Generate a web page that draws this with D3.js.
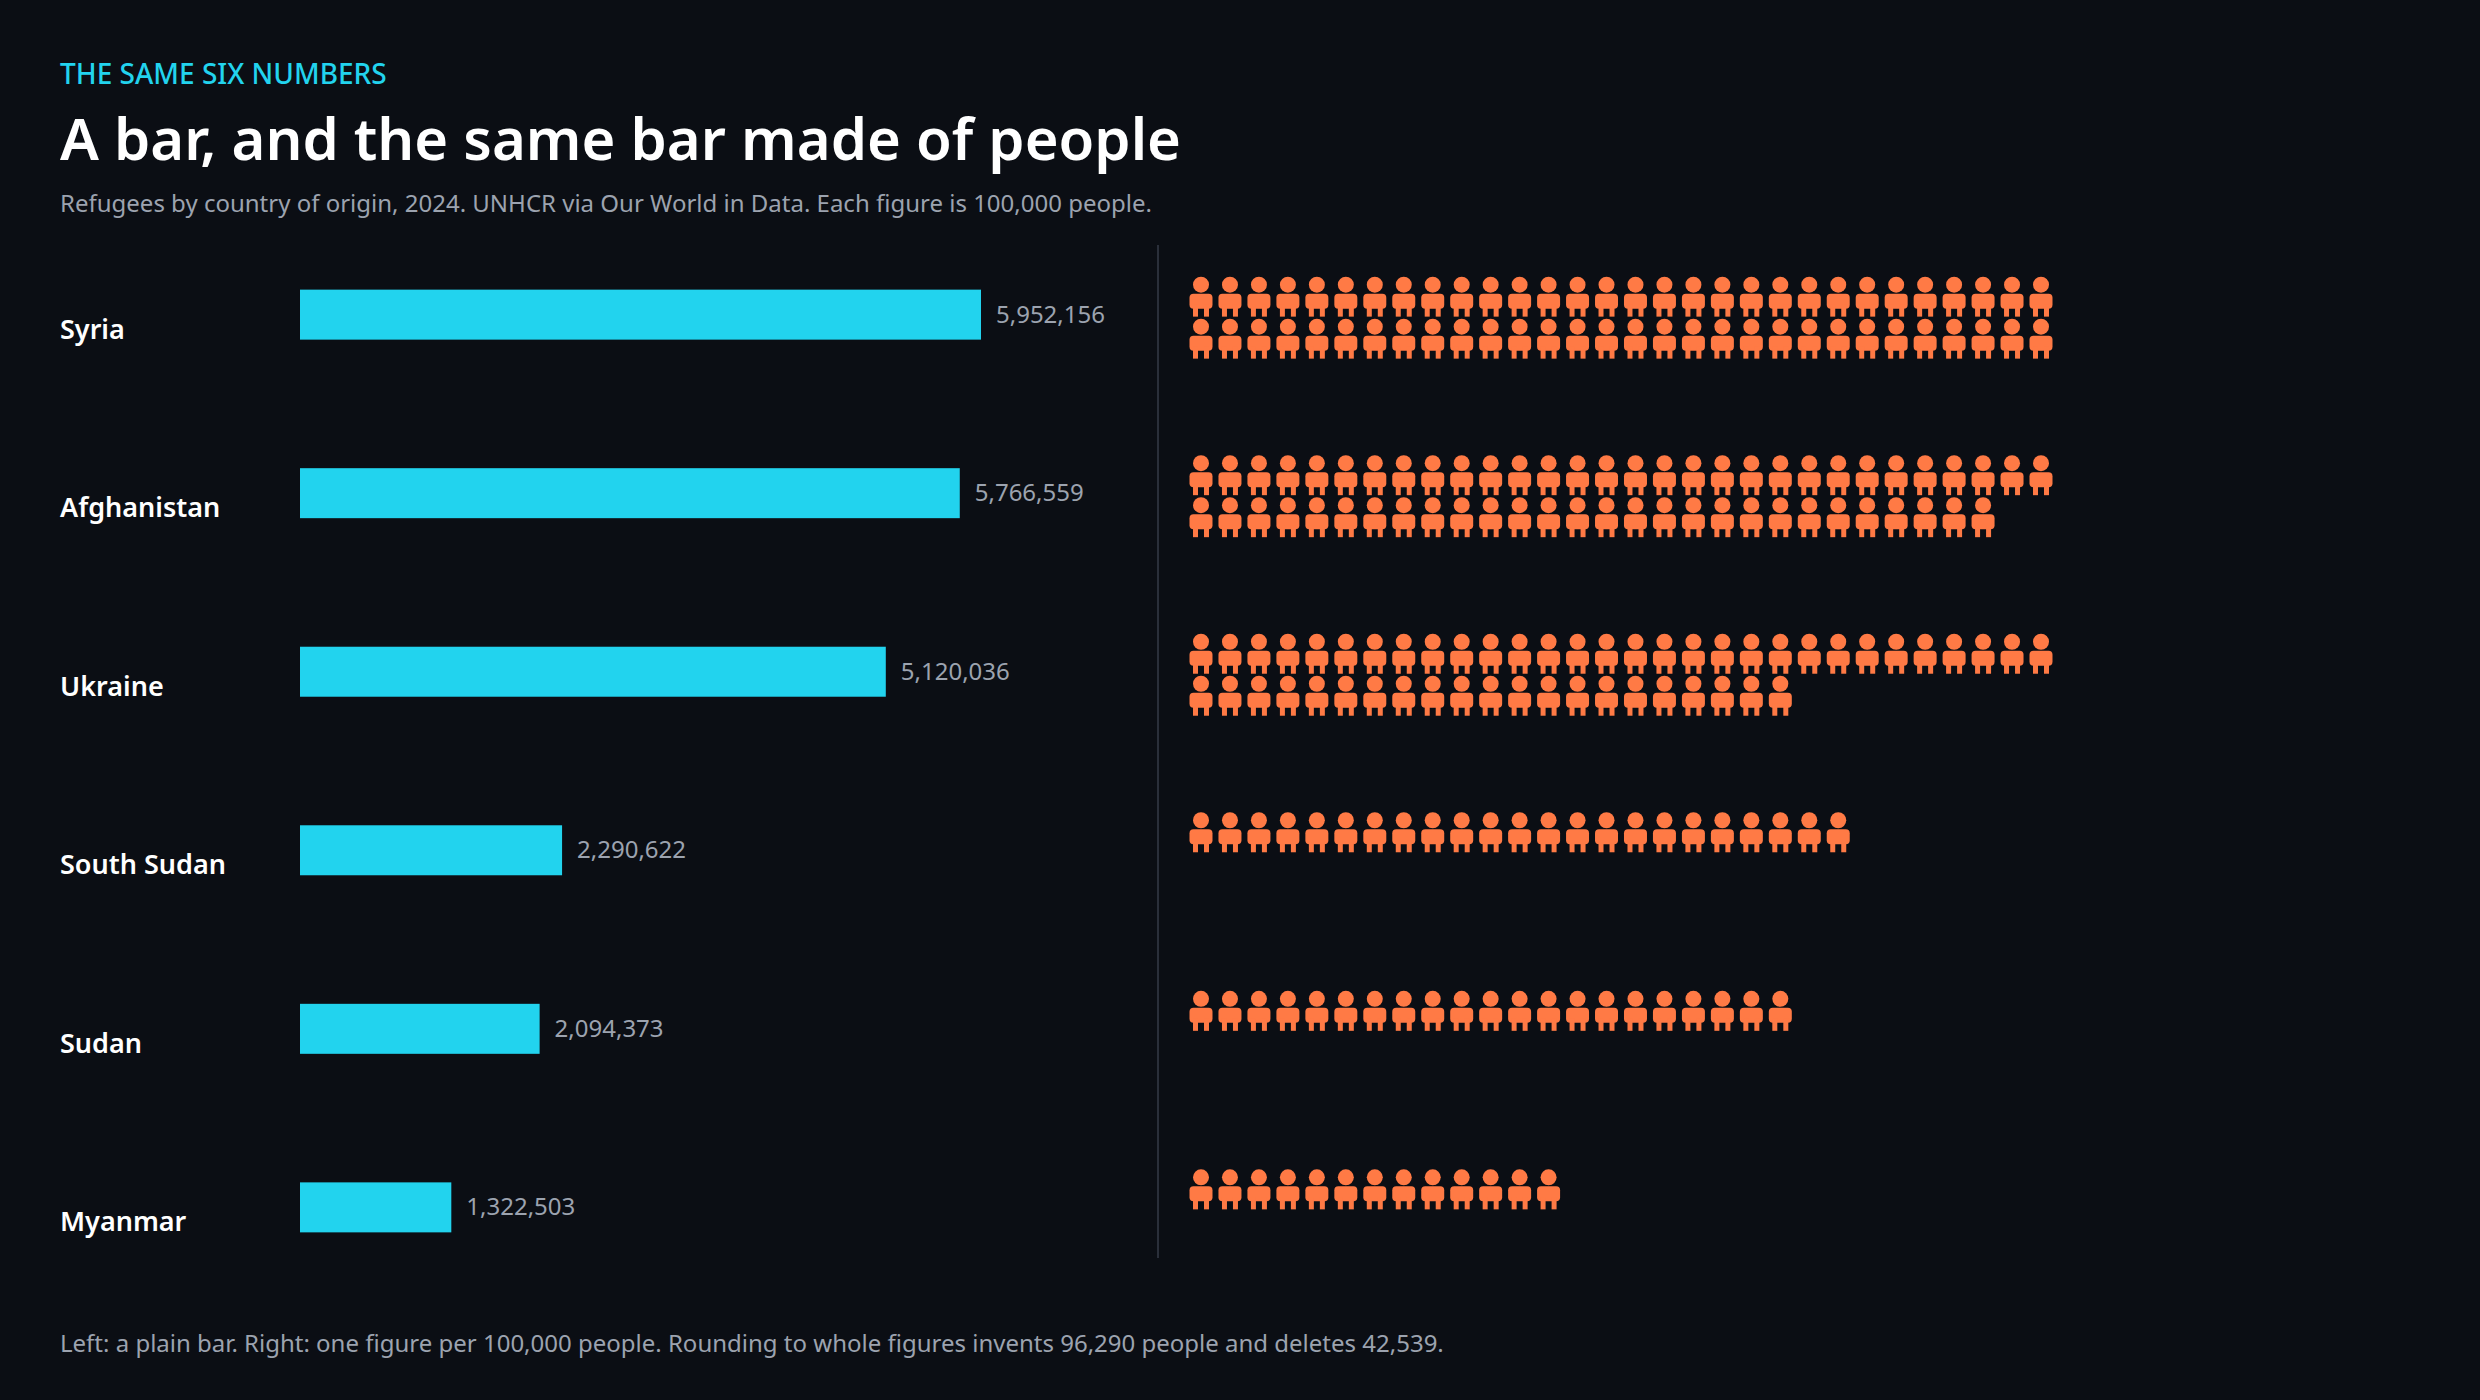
<!DOCTYPE html>
<html>
<head>
<meta charset="utf-8">
<script src="https://cdn.jsdelivr.net/npm/d3@7"></script>
<style>
  html, body { margin: 0; padding: 0; background: #0b0e14; }
  svg { display: block; font-family: "Noto Sans", "Open Sans", sans-serif; }
</style>
</head>
<body>
<svg id="chart" width="2480" height="1400"></svg>
<script>
const countries = ['Syria', 'Afghanistan', 'Ukraine', 'South Sudan', 'Sudan', 'Myanmar'];
const refugees = [5952156, 5766559, 5120036, 2290622, 2094373, 1322503];
const perFigure = 100000;
const perRow = 30;

const W = 2480, H = 1400;
const svg = d3.select('#chart');
svg.append('rect').attr('width', W).attr('height', H).attr('fill', '#0b0e14');

// titles
svg.append('text').attr('x', 60).attr('y', 84).attr('fill', '#22d3ee')
  .attr('font-size', 28).attr('font-weight', 500).text('THE SAME SIX NUMBERS');
svg.append('text').attr('x', 60).attr('y', 160).attr('fill', '#ffffff')
  .attr('font-size', 58).attr('font-weight', 600).text('A bar, and the same bar made of people');
svg.append('text').attr('x', 60).attr('y', 212).attr('fill', '#9ca3af')
  .attr('font-size', 24).text('Refugees by country of origin, 2024. UNHCR via Our World in Data. Each figure is 100,000 people.');
svg.append('text').attr('x', 60).attr('y', 1352).attr('fill', '#9ca3af')
  .attr('font-size', 24).text('Left: a plain bar. Right: one figure per 100,000 people. Rounding to whole figures invents 96,290 people and deletes 42,539.');

const y = d3.scaleBand().domain(countries).range([245, 1277]).paddingInner(0.72).paddingOuter(0.25);
const x = d3.scaleLinear().domain([0, d3.max(refugees)]).range([300, 981]);

const rows = svg.append('g').selectAll('g').data(countries).join('g');

rows.append('text').attr('x', 60).attr('y', c => y(c) + y.bandwidth() / 2 + 24)
  .attr('fill', '#ffffff').attr('font-size', 27).attr('font-weight', 600).text(c => c);

rows.append('rect').attr('x', x(0)).attr('y', c => y(c))
  .attr('width', (c, i) => x(refugees[i]) - x(0)).attr('height', y.bandwidth())
  .attr('fill', '#22d3ee');

rows.append('text').attr('x', (c, i) => x(refugees[i]) + 15)
  .attr('y', c => y(c) + y.bandwidth() / 2 + 8)
  .attr('fill', '#9ca3af').attr('font-size', 24)
  .text((c, i) => d3.format(',')(refugees[i]));

// divider
svg.append('line').attr('x1', 1158).attr('x2', 1158).attr('y1', 245).attr('y2', 1258)
  .attr('stroke', '#2a2f3a').attr('stroke-width', 2);

// pictogram
const ix = d3.scaleLinear().domain([0, perRow - 1]).range([1201, 2041]);
const rowGap = 42;
const drawPerson = (g) => {
  g.append('circle').attr('cx', 0).attr('cy', 8).attr('r', 8);
  g.append('rect').attr('x', -11.5).attr('y', 17).attr('width', 23).attr('height', 15).attr('rx', 4);
  g.append('rect').attr('x', -8).attr('y', 28).attr('width', 5).attr('height', 12);
  g.append('rect').attr('x', 3).attr('y', 28).attr('width', 5).attr('height', 12);
};
countries.forEach((c, i) => {
  const n = Math.round(refugees[i] / perFigure);
  const g = svg.append('g').attr('fill', '#ff7a45');
  d3.range(n).forEach(k => {
    const p = g.append('g')
      .attr('transform', `translate(${ix(k % perRow)},${y(c) - 13 + Math.floor(k / perRow) * rowGap})`);
    drawPerson(p);
  });
});
</script>
</body>
</html>
